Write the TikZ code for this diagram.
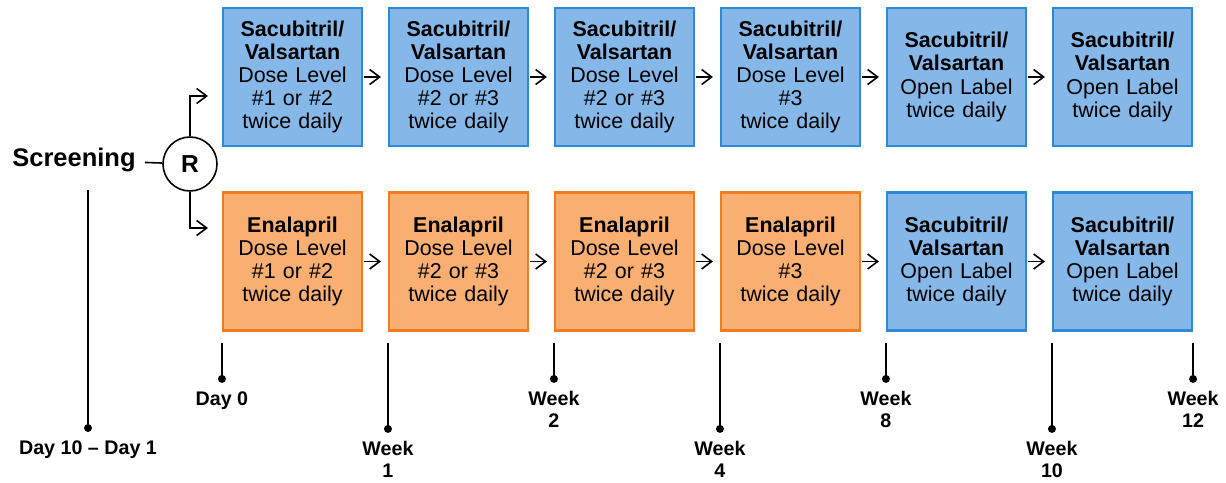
\documentclass[tikz,border=0pt]{standalone}
\usepackage{fontspec}
\setmainfont{Liberation Sans}
\usepackage{tikz}
\usetikzlibrary{shapes.geometric, arrows.meta, positioning}
\definecolor{sacfill}{HTML}{85B8E8}
\definecolor{sacline}{HTML}{2E8AD8}
\definecolor{enafill}{HTML}{F9AE72}
\definecolor{enaline}{HTML}{F47A20}
\tikzstyle{sacbox} = [rectangle, minimum width=2.78cm, minimum height=2.76cm, text width=2.7cm, align=center, draw=sacline, line width=1.2pt, fill=sacfill, font=\fontsize{12.2}{13.2}\selectfont, inner sep=0pt]
\tikzstyle{enabox} = [sacbox, draw=enaline, fill=enafill]
\tikzstyle{randnode} = [circle, draw=black, line width=0.9pt, minimum size=1.08cm, inner sep=0pt, font=\fontsize{14}{16}\selectfont\bfseries]
\tikzstyle{arrow} = [line width=0.9pt,-{Straight Barb[length=0.2cm,width=0.3cm]}]
\tikzstyle{tick} = [line width=1.1pt]
\tikzstyle{dot} = [circle, fill=black, minimum size=0.16cm, inner sep=0pt]
\tikzstyle{ticklabel} = [align=center, font=\fontsize{11.2}{12.5}\selectfont\bfseries, inner sep=0pt]

\begin{document}
\begin{tikzpicture}[node distance=3.32cm]
        \useasboundingbox (0,0) rectangle (24.52,-9.64);
        % Nodes
        \node (scr) [font=\fontsize{14.5}{16}\selectfont\bfseries, inner sep=0.18cm] at (1.48,-3.2) {Screening};
        \node (rand) [randnode] at (3.8,-3.28) {R};
        \node (s1) [sacbox] at (5.85,-1.54) {\textbf{Sacubitril/\\Valsartan}\\Dose Level\\\#1 or \#2\\twice daily};
        \node (s2) [sacbox, right of=s1] {\textbf{Sacubitril/\\Valsartan}\\Dose Level\\\#2 or \#3\\twice daily};
        \node (s3) [sacbox, right of=s2] {\textbf{Sacubitril/\\Valsartan}\\Dose Level\\\#2 or \#3\\twice daily};
        \node (s4) [sacbox, right of=s3] {\textbf{Sacubitril/\\Valsartan}\\Dose Level\\\#3\\twice daily};
        \node (s5) [sacbox, right of=s4] {\textbf{Sacubitril/\\Valsartan}\\Open Label\\twice daily};
        \node (s6) [sacbox, right of=s5] {\textbf{Sacubitril/\\Valsartan}\\Open Label\\twice daily};
        \node (e1) [enabox, below of=s1, yshift=-0.37cm] {\textbf{Enalapril}\\Dose Level\\\#1 or \#2\\twice daily};
        \node (e2) [enabox, right of=e1] {\textbf{Enalapril}\\Dose Level\\\#2 or \#3\\twice daily};
        \node (e3) [enabox, right of=e2] {\textbf{Enalapril}\\Dose Level\\\#2 or \#3\\twice daily};
        \node (e4) [enabox, right of=e3] {\textbf{Enalapril}\\Dose Level\\\#3\\twice daily};
        \node (e5) [sacbox, right of=e4] {\textbf{Sacubitril/\\Valsartan}\\Open Label\\twice daily};
        \node (e6) [sacbox, right of=e5] {\textbf{Sacubitril/\\Valsartan}\\Open Label\\twice daily};

        % Timeline
        \coordinate (tscr) at (1.76,-3.8);
        \coordinate (t0) at ([yshift=-0.22cm]e1.south west);
        \coordinate (t1) at ([yshift=-0.22cm]e2.south west);
        \coordinate (t2) at ([yshift=-0.22cm]e3.south west);
        \coordinate (t4) at ([yshift=-0.22cm]e4.south west);
        \coordinate (t8) at ([yshift=-0.22cm]e5.south west);
        \coordinate (t10) at ([yshift=-0.22cm]e6.south west);
        \coordinate (t12) at ([yshift=-0.22cm]e6.south east);
        \node (dscr) [dot] at (1.76,-8.56) {};
        \node (d0) [dot, below=0.64cm of t0] {};
        \node (d1) [dot, below=1.64cm of t1] {};
        \node (d2) [dot, below=0.64cm of t2] {};
        \node (d4) [dot, below=1.64cm of t4] {};
        \node (d8) [dot, below=0.64cm of t8] {};
        \node (d10) [dot, below=1.64cm of t10] {};
        \node (d12) [dot, below=0.64cm of t12] {};
        \node (lscr) [ticklabel, below=0.16cm of dscr] {Day 10 -- Day 1};
        \node (l0) [ticklabel, below=0.16cm of d0] {Day 0};
        \node (l1) [ticklabel, below=0.16cm of d1] {Week\\1};
        \node (l2) [ticklabel, below=0.16cm of d2] {Week\\2};
        \node (l4) [ticklabel, below=0.16cm of d4] {Week\\4};
        \node (l8) [ticklabel, below=0.16cm of d8] {Week\\8};
        \node (l10) [ticklabel, below=0.16cm of d10] {Week\\10};
        \node (l12) [ticklabel, below=0.16cm of d12] {Week\\12};

        % Arrows
        \draw [line width=0.9pt] (scr) -- (rand);
        \draw [arrow, shorten >=0.28cm] (rand.north) |- ([yshift=-0.38cm]s1.west);
        \draw [arrow, shorten >=0.28cm] (rand.south) |- ([yshift=0.67cm]e1.west);
        \draw [arrow, shorten >=0.14cm, shorten <=0.02cm] (s1) -- (s2);
        \draw [arrow, shorten >=0.14cm, shorten <=0.02cm] (s2) -- (s3);
        \draw [arrow, shorten >=0.14cm, shorten <=0.02cm] (s3) -- (s4);
        \draw [arrow, shorten >=0.14cm, shorten <=0.02cm] (s4) -- (s5);
        \draw [arrow, shorten >=0.14cm, shorten <=0.02cm] (s5) -- (s6);
        \draw [arrow, shorten >=0.14cm, shorten <=0.02cm] (e1) -- (e2);
        \draw [arrow, shorten >=0.14cm, shorten <=0.02cm] (e2) -- (e3);
        \draw [arrow, shorten >=0.14cm, shorten <=0.02cm] (e3) -- (e4);
        \draw [arrow, shorten >=0.14cm, shorten <=0.02cm] (e4) -- (e5);
        \draw [arrow, shorten >=0.14cm, shorten <=0.02cm] (e5) -- (e6);
        \draw [tick] (tscr) -- (dscr);
        \draw [tick] (t0) -- (d0);
        \draw [tick] (t1) -- (d1);
        \draw [tick] (t2) -- (d2);
        \draw [tick] (t4) -- (d4);
        \draw [tick] (t8) -- (d8);
        \draw [tick] (t10) -- (d10);
        \draw [tick] (t12) -- (d12);
    \end{tikzpicture}
\end{document}
